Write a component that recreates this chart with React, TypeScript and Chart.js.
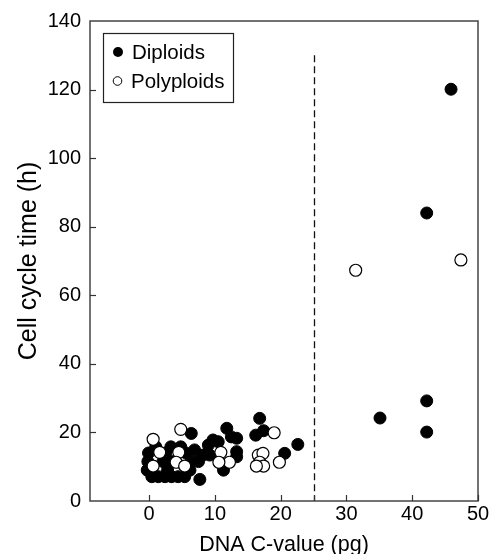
import React, { useEffect, useRef } from "react";
import { Chart, registerables } from "chart.js";

Chart.register(...registerables);

// ---- data ----
const diploidX = [
  0.4, 1.4, 2.4, 3.4, 4.4, 5.4,
  -0.3, 2.8, 6.2,
  -0.2, 2.1, 3.4, 6.4,
  -0.1, 2.5, 5.6,
  1.0, 3.3, 4.8,
  6.4,
  7.7, 7.5, 8.2, 9.0, 9.7, 10.5, 11.3, 11.8, 12.5, 13.3, 13.3, 13.3, 9.2, 6.9,
  16.8, 16.2, 17.4, 20.6, 22.6,
  35.1, 42.2, 42.2, 42.2, 45.9,
];
const diploidY = [
  7.1, 7.1, 7.1, 7.1, 7.1, 7.1,
  9.0, 9.0, 9.0,
  11.5, 11.5, 11.5, 11.5,
  14.0, 14.0, 14.0,
  15.8, 15.8, 15.8,
  19.7,
  6.3, 11.5, 13.4, 16.3, 17.8, 17.3, 9.0, 21.2, 18.7, 18.3, 14.4, 12.9, 13.4, 14.9,
  24.1, 19.2, 20.5, 13.9, 16.5,
  24.2, 20.1, 29.2, 84, 120.1,
];
const polyploidX = [
  0.6, 4.8, 1.6, 4.5, 4.1, 5.4, 0.6,
  10.9, 12.2, 10.6,
  16.6, 17.3, 16.8, 17.4, 16.3, 19.0, 19.8,
  31.4, 47.4,
];
const polyploidY = [
  18.0, 20.9, 14.2, 14.2, 11.3, 10.2, 10.2,
  14.2, 11.3, 11.3,
  13.4, 13.9, 11.3, 10.2, 10.2, 19.9, 11.3,
  67.3, 70.3,
];
const xTicks = [0, 10, 20, 30, 40, 50];
const yTicks = [0, 20, 40, 60, 80, 100, 120, 140];
const extraXTicks = [25];
const thresholdX = 25;
const thresholdTop = 130;
const legendLabels = ["Diploids", "Polyploids"];
const xTitle = "DNA C-value (pg)";
const yTitle = "Cell cycle time (h)";

const FONT = "'Liberation Sans', Arial, Helvetica, sans-serif";

const toPoints = (xs: number[], ys: number[]) => xs.map((x, i) => ({ x, y: ys[i] }));

const decorPlugin = {
  id: "decor",
  beforeDatasetsDraw(chart: any) {
    const { ctx, scales } = chart;
    const xs = scales.x;
    const ys = scales.y;
    ctx.save();
    ctx.strokeStyle = "#111";
    ctx.lineWidth = 1.3;
    ctx.setLineDash([7, 4]);
    const px = Math.round(xs.getPixelForValue(thresholdX)) + 0.5;
    ctx.beginPath();
    ctx.moveTo(px, ys.getPixelForValue(thresholdTop));
    ctx.lineTo(px, ys.getPixelForValue(0));
    ctx.stroke();
    ctx.restore();
  },
  afterDraw(chart: any) {
    const { ctx, chartArea, scales } = chart;
    const xs = scales.x;
    const ys = scales.y;
    const { left, right, top, bottom } = chartArea;
    ctx.save();
    // frame
    ctx.strokeStyle = "#444";
    ctx.lineWidth = 1.5;
    ctx.setLineDash([]);
    ctx.strokeRect(left, top, right - left, bottom - top);
    // inward ticks
    ctx.lineWidth = 1.2;
    ctx.strokeStyle = "#333";
    const tl = 6;
    [...xTicks, ...extraXTicks].forEach((v) => {
      const p = Math.round(xs.getPixelForValue(v)) + 0.5;
      ctx.beginPath();
      ctx.moveTo(p, bottom);
      ctx.lineTo(p, bottom - tl);
      ctx.stroke();
    });
    yTicks.forEach((v) => {
      const p = Math.round(ys.getPixelForValue(v)) + 0.5;
      if (v === 0 || v === 140) return;
      ctx.beginPath();
      ctx.moveTo(left, p);
      ctx.lineTo(left + tl, p);
      ctx.stroke();
    });
    // legend
    const bx = 103.5, by = 33.5, bw = 130, bh = 69;
    ctx.strokeStyle = "#222";
    ctx.lineWidth = 1.2;
    ctx.strokeRect(bx, by, bw, bh);
    ctx.fillStyle = "#000";
    ctx.beginPath();
    ctx.arc(118, 52, 5, 0, Math.PI * 2);
    ctx.fill();
    ctx.fillStyle = "#fff";
    ctx.strokeStyle = "#000";
    ctx.lineWidth = 1;
    ctx.beginPath();
    ctx.arc(117.5, 81, 4.3, 0, Math.PI * 2);
    ctx.fill();
    ctx.stroke();
    ctx.fillStyle = "#000";
    ctx.font = `20.5px ${FONT}`;
    ctx.textBaseline = "middle";
    ctx.textAlign = "left";
    ctx.fillText(legendLabels[0], 132, 53);
    ctx.fillText(legendLabels[1], 131, 82);
    ctx.restore();
  },
};

export default function App() {
  const ref = useRef<HTMLCanvasElement | null>(null);
  useEffect(() => {
    document.body.style.margin = "0";
    if (!ref.current) return;
    const chart = new Chart(ref.current, {
      type: "scatter",
      data: {
        datasets: [
          {
            label: legendLabels[0],
            data: toPoints(diploidX, diploidY),
            backgroundColor: "#000",
            borderColor: "#000",
            borderWidth: 1,
            pointRadius: 6,
            order: 2,
          },
          {
            label: legendLabels[1],
            data: toPoints(polyploidX, polyploidY),
            backgroundColor: "#fff",
            borderColor: "#000",
            borderWidth: 1.2,
            pointRadius: 6,
            order: 1,
          },
        ],
      },
      options: {
        responsive: false,
        animation: false,
        devicePixelRatio: 1,
        layout: { padding: { top: 21, right: 14, left: 0, bottom: 0 } },
        plugins: { legend: { display: false }, tooltip: { enabled: false } },
        scales: {
          x: {
            type: "linear",
            min: -9,
            max: 50,
            afterBuildTicks: (s: any) => {
              s.ticks = xTicks.map((v) => ({ value: v }));
            },
            afterFit: (s: any) => {
              s.height = 53;
            },
            grid: { display: false, drawTicks: false },
            border: { display: false },
            ticks: {
              color: "#000",
              font: { family: FONT, size: 20 },
              padding: 1,
              maxRotation: 0,
            },
            title: {
              display: true,
              text: xTitle,
              color: "#000",
              font: { family: FONT, size: 21.5, lineHeight: 0.8 },
              padding: { top: 0, bottom: 0 },
            },
          },
          y: {
            type: "linear",
            min: 0,
            max: 140,
            afterBuildTicks: (s: any) => {
              s.ticks = yTicks.map((v) => ({ value: v }));
            },
            afterFit: (s: any) => {
              s.width = 90;
            },
            grid: { display: false, drawTicks: false },
            border: { display: false },
            ticks: {
              color: "#000",
              font: { family: FONT, size: 20 },
              padding: 9,
            },
            title: {
              display: true,
              text: yTitle,
              color: "#000",
              font: { family: FONT, size: 25 },
              padding: { top: 14, bottom: 0 },
            },
          },
        },
      },
      plugins: [decorPlugin],
    } as any);
    return () => chart.destroy();
  }, []);
  return (
    <div style={{ width: 492, height: 554 }}>
      <canvas ref={ref} width={492} height={554} />
    </div>
  );
}
